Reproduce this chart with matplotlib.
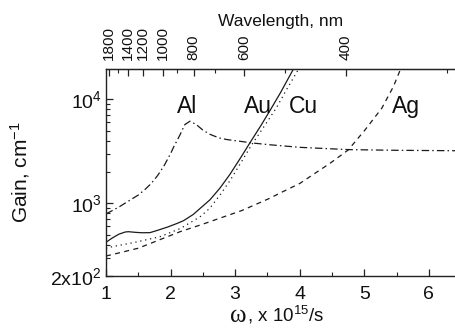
import numpy as np
import matplotlib
matplotlib.use("Agg")
import matplotlib.pyplot as plt
from matplotlib.ticker import FixedLocator, NullFormatter

plt.rcParams['font.family'] = ['Liberation Sans', 'DejaVu Sans']
plt.rcParams['mathtext.fontset'] = 'custom'
plt.rcParams['mathtext.rm'] = 'Liberation Sans'
plt.rcParams['mathtext.it'] = 'Liberation Sans:italic'

# ---- data (omega in 1e15 /s, gain in cm^-1) ----
al_w = [1.0, 1.2, 1.4, 1.5, 1.6, 1.7, 1.8, 1.9, 2.0, 2.05, 2.146, 2.22, 2.3, 2.4, 2.5, 2.61, 2.75, 2.87, 3.28, 3.54, 4.0, 4.75, 5.5, 6.42]
al_g = [790, 920, 1100, 1200, 1350, 1550, 1850, 2300, 3000, 3500, 4550, 5700, 6150, 5700, 5050, 4600, 4250, 4100, 3790, 3650, 3450, 3280, 3230, 3200]

au_w = [1.0, 1.1, 1.2, 1.3, 1.35, 1.45, 1.55, 1.68, 1.8, 1.95, 2.1, 2.2, 2.35, 2.455, 2.61, 2.765, 2.92, 3.07, 3.25, 3.4, 3.54, 3.7, 3.9, 3.95]
au_g = [422, 465, 505, 530, 533, 526, 521, 522, 550, 590, 640, 680, 780, 890, 1080, 1400, 1900, 2650, 4000, 5600, 7800, 11500, 19400, 21500]

cu_w = [1.0, 1.1, 1.42, 1.836, 2.146, 2.455, 2.61, 2.765, 2.92, 3.07, 3.25, 3.45, 3.64, 3.8, 3.98, 4.02]
cu_g = [369, 383, 418, 477, 570, 740, 900, 1200, 1650, 2350, 3600, 5500, 8300, 12500, 19400, 21500]

ag_w = [1.0, 1.5, 2.15, 2.5, 2.76, 3.1, 3.54, 3.69, 4.0, 4.47, 4.75, 5.01, 5.27, 5.45, 5.56, 5.6]
ag_g = [311, 370, 534, 630, 718, 850, 1120, 1250, 1550, 2425, 3250, 5060, 8190, 13200, 19400, 22000]

labels = ["Al", "Au", "Cu", "Ag"]
label_w = [2.25, 3.35, 4.05, 5.65]
label_g = [8600, 8600, 8600, 8600]

wl_major = [1800, 1400, 1200, 1000, 800, 600, 400]
wl_minor = [1600, 900, 700, 500, 300]
HC = 1884.96  # lambda(nm) = 2*pi*c / omega

fig = plt.figure(figsize=(4.56, 3.28), dpi=100)
ax = fig.add_axes([106/456, 52/328, 350/456, (276-69.3)/328])
ax.set_yscale('log')
ax.set_xlim(1, 6.42)
ax.set_ylim(200, 19400)

lc = '#1a1a1a'
ax.plot(al_w, al_g, color=lc, lw=0.9, dashes=[6, 2.5, 1.2, 2.5])
ax.plot(au_w, au_g, color=lc, lw=0.9, ls='-')
ax.plot(cu_w, cu_g, color=lc, lw=0.9, dashes=[1.0, 3.0])
ax.plot(ag_w, ag_g, color=lc, lw=0.9, dashes=[4, 3.5])

for t, x, y in zip(labels, label_w, label_g):
    ax.text(x, y, t, fontsize=16.5, ha='center', va='center', color='#111111')

ax.spines['right'].set_visible(False)
for s in ['left', 'bottom', 'top']:
    ax.spines[s].set_linewidth(1.0)
    ax.spines[s].set_color('#222222')

ax.set_xticks([1, 2, 3, 4, 5, 6])
ax.set_xticks([1.5, 2.5, 3.5, 4.5, 5.5], minor=True)
ax.set_yticks([200, 1000, 10000])
ax.set_yticklabels([r'$2\mathrm{x}10^2$', r'$10^3$', r'$10^4$'])
ax.yaxis.set_minor_locator(FixedLocator([300, 400, 500, 600, 700, 800, 900, 2000, 3000, 4000, 5000, 6000, 7000, 8000, 9000]))
ax.yaxis.set_minor_formatter(NullFormatter())
ax.tick_params(axis='both', which='major', direction='in', length=5, width=0.9, labelsize=14, colors='#222222', labelcolor='#111111')
ax.tick_params(axis='both', which='minor', direction='in', length=3, width=0.8, colors='#222222')
ax.tick_params(axis='x', which='both', top=False, pad=7)
ax.tick_params(axis='y', which='both', right=False, pad=3)

# x label: serif omega followed by sans text
xl_y = (328 - 322) / 328
fig.text(247/456, xl_y, 'ω', family=['Liberation Serif', 'DejaVu Serif'], fontsize=18,
         ha='right', va='baseline', color='#111111')
fig.text(247/456, xl_y, r', x 10$^{15}$/s', fontsize=13.5, ha='left', va='baseline', color='#111111')

ax.set_ylabel(r'Gain, cm$^{-1}$', fontsize=15, labelpad=13, color='#111111')

def w2l(w):
    w = np.asarray(w, dtype=float)
    with np.errstate(divide='ignore'):
        return HC / w

sec = ax.secondary_xaxis('top', functions=(w2l, w2l))
sec.set_xticks(wl_major)
sec.set_xticklabels([str(v) for v in wl_major], rotation=90)
sec.xaxis.set_minor_locator(FixedLocator(wl_minor))
sec.tick_params(which='major', direction='in', length=5, width=0.9, labelsize=11, pad=7, colors='#222222', labelcolor='#111111')
sec.tick_params(which='minor', direction='in', length=3, width=0.8, colors='#222222')
sec.set_xlabel('Wavelength, nm', fontsize=12.5, labelpad=0, color='#111111')

fig.savefig('out.png', dpi=100)
